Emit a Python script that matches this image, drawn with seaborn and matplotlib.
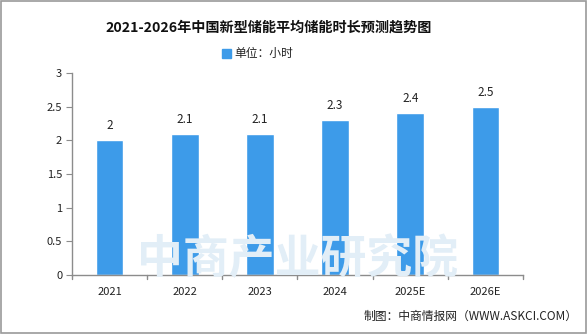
import matplotlib
matplotlib.use("Agg")
import matplotlib.pyplot as plt
import seaborn as sns
import pandas as pd

categories = ["2021", "2022", "2023", "2024", "2025E", "2026E"]
values = [2, 2.1, 2.1, 2.3, 2.4, 2.5]
yticks = [0, 0.5, 1, 1.5, 2, 2.5, 3]
ytick_labels = ["0", "0.5", "1", "1.5", "2", "2.5", "3"]

sns.set_style("white")
plt.rcParams['font.family'] = ['Noto Sans CJK SC', 'DejaVu Sans']

df = pd.DataFrame({"year": categories, "value": values})

fig = plt.figure(figsize=(5.87, 3.34), dpi=100)
ax = fig.add_axes([72/587, 1-275/334, 451/587, 202/334])

# watermark
fig.text(298/587, 1-260/334, "中商产业研究院", fontsize=33, color="#e2eef7",
         ha="center", va="center", fontweight="bold", zorder=0)

sns.barplot(data=df, x="year", y="value", color="#3d9be9", width=0.37,
            saturation=1, ax=ax, zorder=2)

ax.set_ylim(0, 3)
ax.set_xlim(-0.5, 5.5)
ax.set_yticks(yticks)
ax.set_yticklabels(ytick_labels)
ax.set_xlabel("")
ax.set_ylabel("")
ax.set_facecolor("none")
for s in ["top", "right"]:
    ax.spines[s].set_visible(False)
for s in ["left", "bottom"]:
    ax.spines[s].set_color("#8c8c8c")
    ax.spines[s].set_linewidth(1)

ax.tick_params(axis="y", left=True, length=4, color="#8c8c8c", labelsize=8, pad=3, labelcolor="#222222")
ax.tick_params(axis="x", bottom=False, labelsize=8, pad=5, labelcolor="#222222")
for b in [i - 0.5 for i in range(len(categories) + 1)]:
    ax.plot([b, b], [0, -0.02 * 3], color="#8c8c8c", lw=1, clip_on=False)

for i, v in enumerate(values):
    ax.text(i, v + 0.12, f"{v:g}", ha="center", va="bottom", fontsize=8.5, color="#222222")

fig.text(269/587, 1-28/334, "2021-2026年中国新型储能平均储能时长预测趋势图", ha="center", va="center",
         fontsize=10.2, fontweight="bold", color="#111111")
fig.patches.append(matplotlib.patches.Rectangle((222/587, 1-58/334), 9/587, 9/334,
                   transform=fig.transFigure, color="#3d9be9", figure=fig))
fig.text(234/587, 1-53.5/334, "单位：小时", ha="left", va="center", fontsize=8.5, color="#222222")

fig.text(578/587, 1-316/334, "制图：中商情报网（WWW.ASKCI.COM）", ha="right", va="center",
         fontsize=8.5, color="#222222")

fig.patches.append(matplotlib.patches.Rectangle((0.001, 0.004), 0.997, 0.994, transform=fig.transFigure,
                   fill=False, edgecolor="#9a9a9a", lw=1.2, figure=fig))

fig.savefig("out.png", dpi=100)
